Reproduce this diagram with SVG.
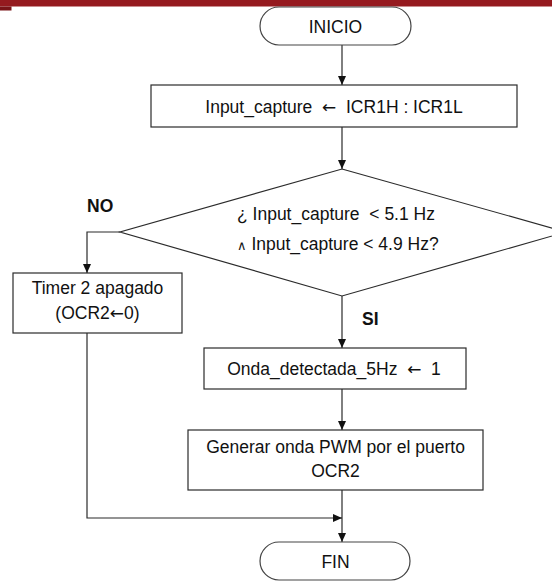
<svg xmlns="http://www.w3.org/2000/svg" width="552" height="583" viewBox="0 0 552 583">
  <style>
    .shape { fill: #ffffff; stroke: #2b2b2b; stroke-width: 1.2; }
    .term { fill: #ffffff; stroke: #444444; stroke-width: 1.2; }
    .lbl { font-family: "Liberation Sans", Arial, sans-serif; font-size: 17.5px; fill: #111111; }
    .arr { font-family: "DejaVu Sans", sans-serif; font-size: 17px; }
    .and { font-family: "DejaVu Sans", sans-serif; font-size: 13px; }
    .mid { text-anchor: middle; }
    .bold { font-weight: bold; }
    .conn { fill: none; stroke: #2b2b2b; stroke-width: 1.2; }
  </style>
  <defs>
    <marker id="arrow" markerWidth="10" markerHeight="10" refX="9" refY="4" orient="auto" markerUnits="userSpaceOnUse">
      <path d="M0,0 L9,4 L0,8 Z" fill="#111111"/>
    </marker>
  </defs>

  <rect width="552" height="583" fill="#ffffff"/>
  <!-- header band -->
  <rect x="0" y="0" width="552" height="6.5" fill="#951a1f"/>
  <rect x="0" y="6.5" width="11.5" height="4" fill="#7a1418"/>

  <g id="connectors">
    <line class="conn" x1="342" y1="45" x2="342" y2="85" marker-end="url(#arrow)"/>
    <line class="conn" x1="342" y1="127" x2="342" y2="169" marker-end="url(#arrow)"/>
    <polyline class="conn" points="120,232 87,232 87,273" marker-end="url(#arrow)"/>
    <line class="conn" x1="342" y1="296" x2="342" y2="348" marker-end="url(#arrow)"/>
    <line class="conn" x1="342" y1="389" x2="342" y2="430" marker-end="url(#arrow)"/>
    <line class="conn" x1="342" y1="490" x2="342" y2="542" marker-end="url(#arrow)"/>
    <polyline class="conn" points="87,333 87,518 342,518" marker-end="url(#arrow)"/>
    <text class="lbl bold" x="87" y="212">NO</text>
    <text class="lbl bold" x="362" y="325">SI</text>
  </g>

  <g id="inicio">
    <rect class="term" x="260" y="7" width="151" height="38" rx="19" ry="19"/>
    <text class="lbl mid" x="335.5" y="32.5">INICIO</text>
  </g>

  <g id="lectura">
    <rect class="shape" x="151" y="85" width="366" height="42"/>
    <text class="lbl mid" x="334" y="112.5" xml:space="preserve">Input_capture  <tspan class="arr">←</tspan>  ICR1H : ICR1L</text>
  </g>

  <g id="decision">
    <polygon class="shape" points="342,169 566,232 342,296 120,232"/>
    <text class="lbl" x="237" y="220" xml:space="preserve">¿ Input_capture  &lt; 5.1 Hz</text>
    <text class="lbl" x="237" y="250"><tspan class="and">∧</tspan> Input_capture &lt; 4.9 Hz?</text>
  </g>

  <g id="timer">
    <rect class="shape" x="13" y="273" width="169" height="60"/>
    <text class="lbl mid" x="97.5" y="294">Timer 2 apagado</text>
    <text class="lbl mid" x="97.5" y="319">(OCR2<tspan class="arr">←</tspan>0)</text>
  </g>

  <g id="onda">
    <rect class="shape" x="204" y="348" width="262" height="41"/>
    <text class="lbl mid" x="334" y="374.5" xml:space="preserve">Onda_detectada_5Hz  <tspan class="arr">←</tspan>  1</text>
  </g>

  <g id="pwm">
    <rect class="shape" x="188" y="430" width="295" height="60"/>
    <text class="lbl mid" x="335.5" y="452.5">Generar onda PWM por el puerto</text>
    <text class="lbl mid" x="335.5" y="477">OCR2</text>
  </g>

  <g id="fin">
    <rect class="term" x="260" y="542" width="150" height="38" rx="19" ry="19"/>
    <text class="lbl mid" x="335.5" y="567.5">FIN</text>
  </g>
</svg>
